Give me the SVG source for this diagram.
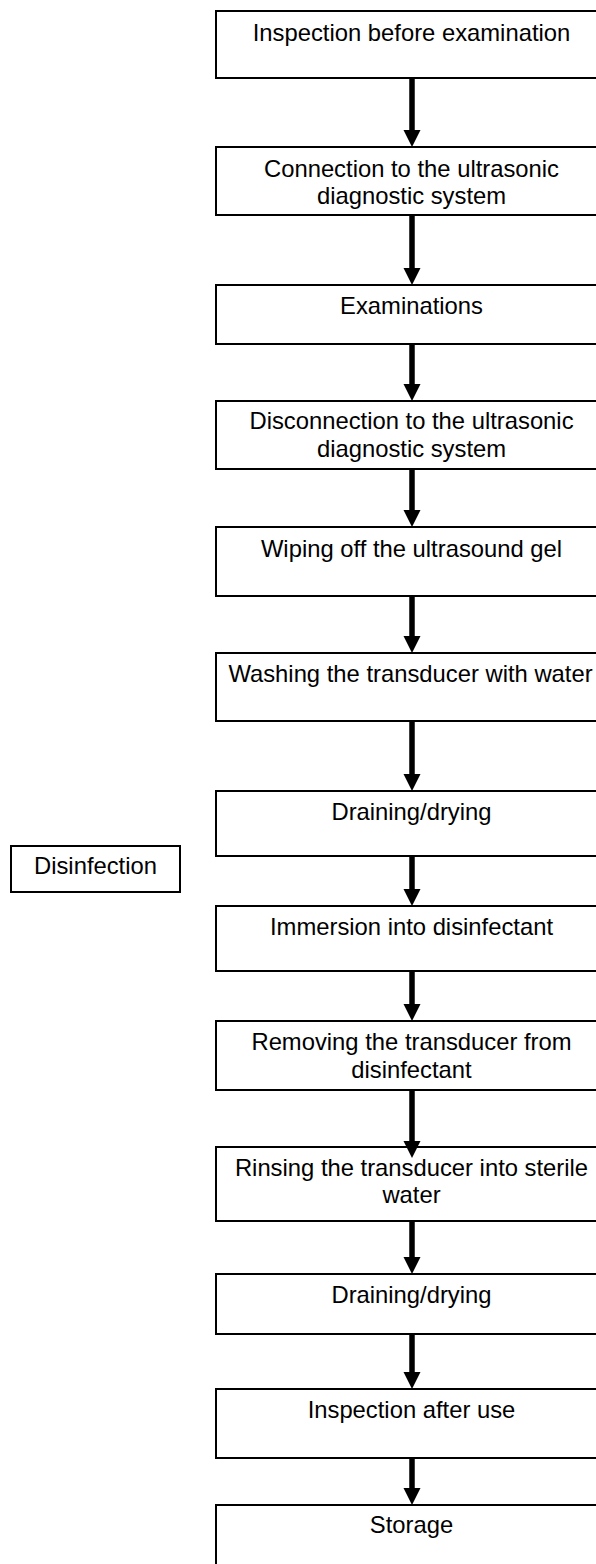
<svg xmlns="http://www.w3.org/2000/svg" width="596" height="1564" viewBox="0 0 596 1564">
<style>
.box{fill:#fff;stroke:#000;stroke-width:2}
.t{font-family:"Liberation Sans",Arial,sans-serif;font-size:23.8px;fill:#000;text-anchor:middle}
.sh{stroke:#000;stroke-width:5.5;fill:none}
.hd{fill:#000}
</style>
<rect width="596" height="1564" fill="#fff"/>
<g id="n1"><rect class="box" x="216" y="11" width="391" height="67"/><text class="t" x="411.5" y="41">Inspection before examination</text></g>
<g id="n2"><rect class="box" x="216" y="147" width="391" height="68"/><text class="t" x="411.5" y="177">Connection to the ultrasonic</text><text class="t" x="411.5" y="204">diagnostic system</text></g>
<g id="n3"><rect class="box" x="216" y="285" width="391" height="59"/><text class="t" x="411.5" y="314">Examinations</text></g>
<g id="n4"><rect class="box" x="216" y="401" width="391" height="68"/><text class="t" x="411.5" y="429">Disconnection to the ultrasonic</text><text class="t" x="411.5" y="457">diagnostic system</text></g>
<g id="n5"><rect class="box" x="216" y="527" width="391" height="69"/><text class="t" x="411.5" y="557">Wiping off the ultrasound gel</text></g>
<g id="n6"><rect class="box" x="216" y="653" width="391" height="68"/><text class="t" x="410.5" y="682">Washing the transducer with water</text></g>
<g id="n7"><rect class="box" x="216" y="791" width="391" height="65"/><text class="t" x="411.5" y="820">Draining/drying</text></g>
<g id="n8"><rect class="box" x="216" y="906" width="391" height="65"/><text class="t" x="411.5" y="935">Immersion into disinfectant</text></g>
<g id="n9"><rect class="box" x="216" y="1021" width="391" height="69"/><text class="t" x="411.5" y="1050">Removing the transducer from</text><text class="t" x="411.5" y="1078">disinfectant</text></g>
<g id="n10"><rect class="box" x="216" y="1147" width="391" height="74"/><text class="t" x="411.5" y="1176">Rinsing the transducer into sterile</text><text class="t" x="411.5" y="1203">water</text></g>
<g id="n11"><rect class="box" x="216" y="1274" width="391" height="60"/><text class="t" x="411.5" y="1303">Draining/drying</text></g>
<g id="n12"><rect class="box" x="216" y="1389" width="391" height="69"/><text class="t" x="411.5" y="1418">Inspection after use</text></g>
<g id="n13"><rect class="box" x="216" y="1505" width="391" height="80"/><text class="t" x="411.5" y="1533">Storage</text></g>
<g id="n14"><rect class="box" x="11" y="846" width="169" height="46"/><text class="t" x="95.5" y="874">Disinfection</text></g>
<g id="connectors">
<line class="sh" x1="412" y1="79" x2="412" y2="131"/><polygon class="hd" points="403.5,130 420.5,130 412,147"/>
<line class="sh" x1="412" y1="216" x2="412" y2="269"/><polygon class="hd" points="403.5,268 420.5,268 412,285"/>
<line class="sh" x1="412" y1="345" x2="412" y2="385"/><polygon class="hd" points="403.5,384 420.5,384 412,401"/>
<line class="sh" x1="412" y1="470" x2="412" y2="511"/><polygon class="hd" points="403.5,510 420.5,510 412,527"/>
<line class="sh" x1="412" y1="597" x2="412" y2="637"/><polygon class="hd" points="403.5,636 420.5,636 412,653"/>
<line class="sh" x1="412" y1="722" x2="412" y2="775"/><polygon class="hd" points="403.5,774 420.5,774 412,791"/>
<line class="sh" x1="412" y1="857" x2="412" y2="890"/><polygon class="hd" points="403.5,889 420.5,889 412,906"/>
<line class="sh" x1="412" y1="972" x2="412" y2="1005"/><polygon class="hd" points="403.5,1004 420.5,1004 412,1021"/>
<line class="sh" x1="412" y1="1091" x2="412" y2="1142"/><polygon class="hd" points="403.5,1141 420.5,1141 412,1158"/>
<line class="sh" x1="412" y1="1222" x2="412" y2="1258"/><polygon class="hd" points="403.5,1257 420.5,1257 412,1274"/>
<line class="sh" x1="412" y1="1335" x2="412" y2="1373"/><polygon class="hd" points="403.5,1372 420.5,1372 412,1389"/>
<line class="sh" x1="412" y1="1459" x2="412" y2="1489"/><polygon class="hd" points="403.5,1488 420.5,1488 412,1505"/>
</g>
</svg>
